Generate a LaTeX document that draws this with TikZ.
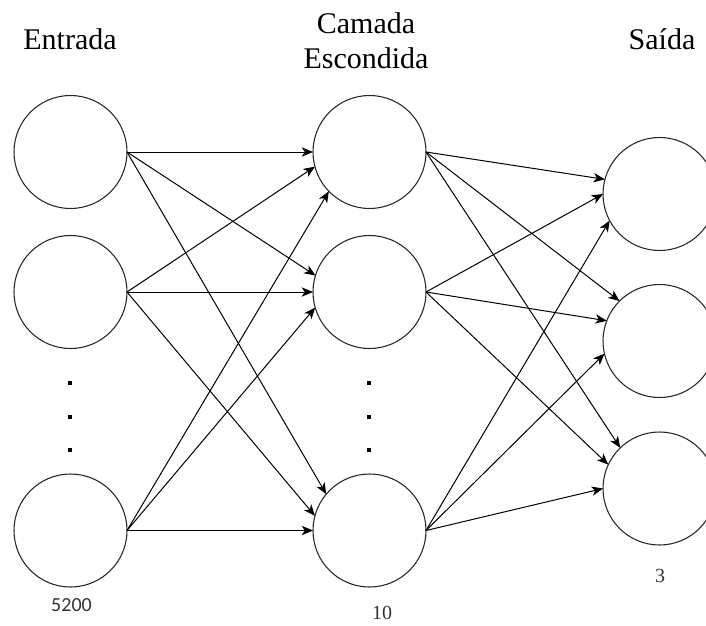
\documentclass[tikz,border=0pt]{standalone}
\usepackage{fontspec}
\setmainfont{Liberation Serif}
\newfontfamily\numfont{Carlito}
\usetikzlibrary{arrows.meta}
\begin{document}
\begin{tikzpicture}[x=0.75pt,y=-0.75pt,
  neuron/.style={circle,draw=black!85,line width=0.8pt,minimum size=84.75pt,inner sep=0pt,outer sep=0pt},
  conn/.style={line width=0.75pt,-{Stealth[length=8.5pt,width=7pt,inset=2.4pt]}},
  title/.style={font=\fontsize{22.5}{27}\selectfont,anchor=base,inner sep=0pt},
  count/.style={font=\fontsize{15}{18}\selectfont,anchor=base,inner sep=0pt,text=black!80}]
\useasboundingbox (0,0) rectangle (706,625);
\clip (0,0) rectangle (706,625);
% titles
\node[title] (tin) at (70,49) {Entrada};
\node[title] (thid1) at (366,33) {Camada};
\node[title] (thid2) at (366,68) {Escondida};
\node[title] (tout) at (662,49) {Saída};
% neurons
\node[neuron] (i1) at (70.5,152) {};
\node[neuron] (i2) at (70.5,292) {};
\node[neuron] (i3) at (70.5,530.5) {};
\node[neuron] (h1) at (369.5,152) {};
\node[neuron] (h2) at (369.5,292) {};
\node[neuron] (h3) at (369.5,530.5) {};
\node[neuron] (o1) at (659.5,194) {};
\node[neuron] (o2) at (659.5,341) {};
\node[neuron] (o3) at (659.5,488.5) {};
% dots
\foreach \xx in {70,369} {
  \foreach \yy in {383,417,450} {
    \fill (\xx-1.8,\yy-1.8) rectangle (\xx+1.8,\yy+1.8);
  }
}
% counts
\node[count,font=\numfont\fontsize{15}{18}\selectfont] (n1) at (71.5,611) {5200};
\node[count] (n2) at (382,619.5) {10};
\node[count] (n3) at (660,582) {3};
% input -> hidden
\draw[conn] (i1.east) -- (h1.west);
\draw[conn] (i1.east) -- (h2.163);
\draw[conn] (i1.east) -- (h3.140);
\draw[conn] (i2.east) -- (h1.195);
\draw[conn] (i2.east) -- (h2.west);
\draw[conn] (i2.east) -- (h3.165);
\draw[conn] (i3.east) -- (h1.224);
\draw[conn] (i3.east) -- (h2.196);
\draw[conn] (i3.east) -- (h3.west);
% hidden -> output
\draw[conn] (h1.east) -- (o1.165);
\draw[conn] (h1.east) -- (o2.135);
\draw[conn] (h1.east) -- (o3.134);
\draw[conn] (h2.east) -- (o1.west);
\draw[conn] (h2.east) -- (o2.159);
\draw[conn] (h2.east) -- (o3.155);
\draw[conn] (h3.east) -- (o1.208);
\draw[conn] (h3.east) -- (o2.193);
\draw[conn] (h3.east) -- (o3.west);
\end{tikzpicture}
\end{document}
